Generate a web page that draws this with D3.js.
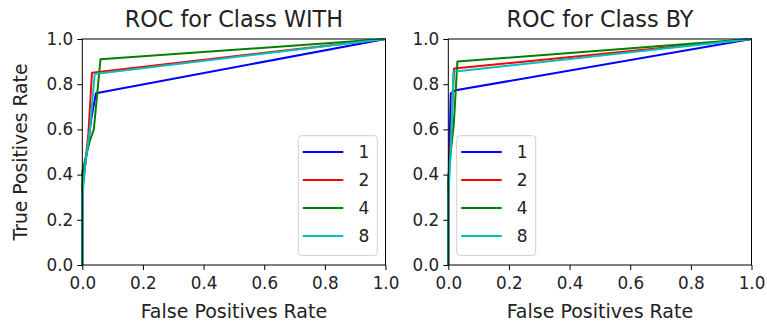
<!DOCTYPE html>
<html>
<head>
<meta charset="utf-8">
<script src="https://cdn.jsdelivr.net/npm/d3@7"></script>
<style>
  body { margin: 0; background: #fff; }
  svg text { font-family: "DejaVu Sans", sans-serif; fill: #222; }
</style>
</head>
<body>
<svg id="chart" width="767" height="326"></svg>
<script>
// Series names and colours
const seriesNames = ["1", "2", "4", "8"];
const seriesColors = ["#0000ff", "#ff0000", "#008000", "#00bfbf"];

// Tick labels
const tickValues = [0, 0.2, 0.4, 0.6, 0.8, 1.0];

// ROC points, class WITH: [fpr, tpr]
const withBlue  = [[0, 0], [0, 0.33], [0.01, 0.45], [0.03, 0.65], [0.045, 0.76], [1, 1]];
const withRed   = [[0, 0], [0, 0.35], [0.01, 0.45], [0.02, 0.58], [0.032, 0.851], [1, 1]];
const withGreen = [[0, 0], [0, 0.41], [0.01, 0.47], [0.025, 0.55], [0.038, 0.6], [0.06, 0.91], [1, 1]];
const withCyan  = [[0, 0], [0, 0.3], [0.01, 0.45], [0.025, 0.6], [0.041, 0.845], [1, 1]];

// class BY
const byBlue  = [[0, 0], [0, 0.3], [0.008, 0.76], [0.024, 0.773], [1, 1]];
const byRed   = [[0, 0], [0, 0.35], [0.008, 0.55], [0.019, 0.869], [1, 1]];
const byGreen = [[0, 0], [0, 0.38], [0.008, 0.5], [0.018, 0.62], [0.03, 0.9], [1, 1]];
const byCyan  = [[0, 0], [0, 0.3], [0.008, 0.5], [0.017, 0.855], [1, 1]];

const panels = [
  {title: "ROC for Class WITH", left: 82.3, series: [withBlue, withRed, withGreen, withCyan], legendX: 298.3, ylabel: true},
  {title: "ROC for Class BY", left: 448.3, series: [byBlue, byRed, byGreen, byCyan], legendX: 456.7, ylabel: false}
];

const PLOT = {width: 303.2, top: 39, bottom: 265};

const svg = d3.select("#chart");

panels.forEach(p => {
  const x = d3.scaleLinear().domain([0, 1]).range([p.left, p.left + PLOT.width]);
  const y = d3.scaleLinear().domain([0, 1]).range([PLOT.bottom, PLOT.top]);

  const g = svg.append("g");

  // curves
  const line = d3.line().x(d => x(d[0])).y(d => y(d[1]));
  g.selectAll(".curve")
    .data(p.series)
    .join("path")
    .attr("class", "curve")
    .attr("d", line)
    .attr("fill", "none")
    .attr("stroke", (d, i) => seriesColors[i])
    .attr("stroke-width", 2)
    .attr("stroke-linejoin", "round");

  // frame
  g.append("rect")
    .attr("x", x(0)).attr("y", y(1))
    .attr("width", x(1) - x(0)).attr("height", y(0) - y(1))
    .attr("fill", "none").attr("stroke", "#000").attr("stroke-width", 1);

  // axes
  const xAxis = g.append("g")
    .attr("transform", `translate(0,${PLOT.bottom})`)
    .call(d3.axisBottom(x).tickValues(tickValues).tickFormat(d3.format(".1f")).tickSize(5).tickPadding(4));
  const yAxis = g.append("g")
    .attr("transform", `translate(${p.left},0)`)
    .call(d3.axisLeft(y).tickValues(tickValues).tickFormat(d3.format(".1f")).tickSize(5).tickPadding(4));
  [xAxis, yAxis].forEach(a => {
    a.select(".domain").remove();
    a.selectAll(".tick line").attr("stroke", "#000");
    a.selectAll(".tick text").attr("font-size", "16.8px").attr("fill", "#222")
      .style("font-family", "'DejaVu Sans', sans-serif");
  });
  xAxis.selectAll(".tick text").attr("dy", "0.9em");

  // title
  g.append("text")
    .attr("x", x(0.5)).attr("y", 27)
    .attr("text-anchor", "middle")
    .attr("font-size", "22.3px")
    .text(p.title);

  // x label
  g.append("text")
    .attr("x", x(0.5)).attr("y", 318)
    .attr("text-anchor", "middle")
    .attr("font-size", "19px")
    .text("False Positives Rate");

  if (p.ylabel) {
    g.append("text")
      .attr("transform", `translate(26.5,${(PLOT.top + PLOT.bottom) / 2}) rotate(-90)`)
      .attr("text-anchor", "middle")
      .attr("font-size", "18.8px")
      .text("True Positives Rate");
  }

  // legend
  const lg = g.append("g").attr("transform", `translate(${p.legendX},135.7)`);
  lg.append("rect")
    .attr("width", 79).attr("height", 119.7)
    .attr("rx", 3)
    .attr("fill", "#fff").attr("fill-opacity", 0.8)
    .attr("stroke", "#d0d0d0").attr("stroke-width", 1);
  seriesNames.forEach((name, i) => {
    const yy = 16.3 + i * 28;
    lg.append("line")
      .attr("x1", 4.5).attr("x2", 45)
      .attr("y1", yy).attr("y2", yy)
      .attr("stroke", seriesColors[i]).attr("stroke-width", 2);
    lg.append("text")
      .attr("x", 65.6).attr("y", yy + 6)
      .attr("text-anchor", "middle")
      .attr("font-size", "17px")
      .text(name);
  });
});
</script>
</body>
</html>
